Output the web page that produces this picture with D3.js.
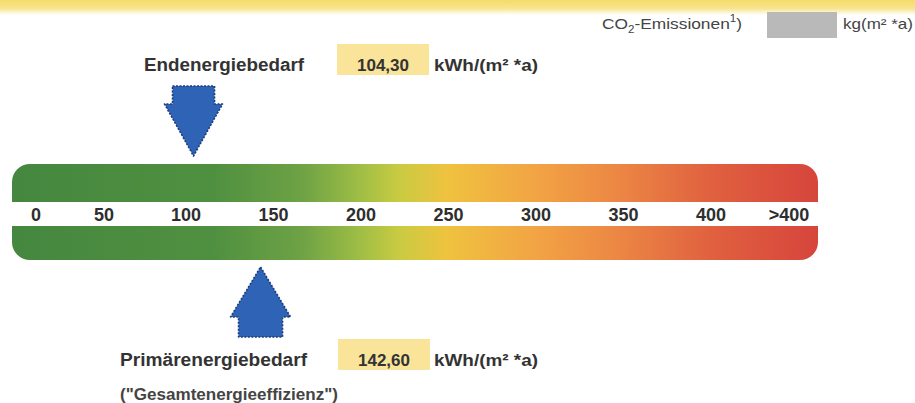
<!DOCTYPE html>
<html lang="de">
<head>
<meta charset="utf-8">
<title>Energiebedarf</title>
<script src="https://d3js.org/d3.v7.min.js"></script>
<style>
  body { margin: 0; background: #fff; }
  svg { display: block; font-family: "Liberation Sans", Arial, sans-serif; }
</style>
</head>
<body>
<svg width="915" height="403"></svg>
<script>
const tickValues = [0, 50, 100, 150, 200, 250, 300, 350, 400, 450];
const tickLabels = ["0", "50", "100", "150", "200", "250", "300", "350", "400", ">400"];
const endenergie = 104.30;
const primaerenergie = 142.60;
const unit = "kWh/(m\u00b2 *a)";
const fmt = d3.format(".2f");
const de = v => fmt(v).replace(".", ",");

const svg = d3.select("svg");
const defs = svg.append("defs");

// scale of the band (spacing is not even at the left end)
const x = d3.scaleLinear()
  .domain([0, 50, 100, 400, 450])
  .range([36, 104, 186, 711, 789]);

// top header strip
const head = defs.append("linearGradient").attr("id", "head").attr("x1", 0).attr("x2", 0).attr("y1", 0).attr("y2", 1);
head.append("stop").attr("offset", "0%").attr("stop-color", "#f4dc6a");
head.append("stop").attr("offset", "55%").attr("stop-color", "#f7e48c");
head.append("stop").attr("offset", "100%").attr("stop-color", "#fff");
svg.append("rect").attr("x", 0).attr("y", 0).attr("width", 915).attr("height", 15).attr("fill", "url(#head)");

// colour band gradient
const band = defs.append("linearGradient").attr("id", "band").attr("x1", 0).attr("x2", 1).attr("y1", 0).attr("y2", 0);
[["0%", "#45873f"], ["25%", "#4f9040"], ["36%", "#6ea245"], ["43%", "#9dbd45"], ["48%", "#c9cb42"],
 ["54%", "#efc23f"], ["65%", "#f2a444"], ["76%", "#eb8444"], ["87%", "#e0603f"], ["100%", "#d6453c"]]
  .forEach(([o, c]) => band.append("stop").attr("offset", o).attr("stop-color", c));

const bx0 = 12, bx1 = 818, r = 18;
const topY0 = 164, topY1 = 202, botY0 = 226, botY1 = 260;

const topPath = d3.path();
topPath.moveTo(bx0, topY1);
topPath.lineTo(bx0, topY0 + r);
topPath.arcTo(bx0, topY0, bx0 + r, topY0, r);
topPath.lineTo(bx1 - r, topY0);
topPath.arcTo(bx1, topY0, bx1, topY0 + r, r);
topPath.lineTo(bx1, topY1);
topPath.closePath();

const botPath = d3.path();
botPath.moveTo(bx0, botY0);
botPath.lineTo(bx1, botY0);
botPath.lineTo(bx1, botY1 - r);
botPath.arcTo(bx1, botY1, bx1 - r, botY1, r);
botPath.lineTo(bx0 + r, botY1);
botPath.arcTo(bx0, botY1, bx0, botY1 - r, r);
botPath.closePath();

svg.append("path").attr("d", topPath.toString()).attr("fill", "url(#band)");
svg.append("path").attr("d", botPath.toString()).attr("fill", "url(#band)");

// scale labels
svg.append("g").selectAll("text")
  .data(tickValues)
  .join("text")
  .attr("x", d => x(d))
  .attr("y", 221)
  .attr("text-anchor", "middle")
  .attr("font-size", 18)
  .attr("font-weight", "bold")
  .attr("fill", "#2e2e2e")
  .text((d, i) => tickLabels[i]);

// arrows
const arrowFill = "#2f63b6", arrowStroke = "#1c3d7c";
function arrow(v, dir) {
  const cx = x(v);
  const p = d3.path();
  if (dir === "down") {
    p.moveTo(cx - 21, 86); p.lineTo(cx + 21, 86); p.lineTo(cx + 21, 104);
    p.lineTo(cx + 29, 104); p.lineTo(cx, 156); p.lineTo(cx - 29, 104);
    p.lineTo(cx - 21, 104); p.closePath();
  } else {
    p.moveTo(cx, 267); p.lineTo(cx + 30, 317); p.lineTo(cx + 22, 317);
    p.lineTo(cx + 22, 337); p.lineTo(cx - 22, 337); p.lineTo(cx - 22, 317);
    p.lineTo(cx - 30, 317); p.closePath();
  }
  svg.append("path").attr("d", p.toString())
    .attr("fill", arrowFill).attr("stroke", arrowStroke)
    .attr("stroke-width", 1.6).attr("stroke-dasharray", "2 1.5")
    .attr("stroke-linejoin", "round");
}
arrow(endenergie, "down");
arrow(primaerenergie, "up");

// value rows
function valueRow(label, v, y, bx) {
  svg.append("text").attr("x", label.x).attr("y", y)
    .attr("font-size", 18).attr("font-weight", "bold").attr("fill", "#333")
    .attr("textLength", label.w).attr("lengthAdjust", "spacingAndGlyphs")
    .text(label.t);
  svg.append("rect").attr("x", bx).attr("y", y - 27).attr("width", 92).attr("height", 31)
    .attr("fill", "#f9e49a");
  svg.append("text").attr("x", bx + 46).attr("y", y).attr("text-anchor", "middle")
    .attr("font-size", 17).attr("font-weight", "bold").attr("fill", "#333")
    .text(de(v));
  svg.append("text").attr("x", 434).attr("y", y)
    .attr("font-size", 17).attr("font-weight", "bold").attr("fill", "#333")
    .attr("textLength", 104).attr("lengthAdjust", "spacingAndGlyphs")
    .text(unit);
}
valueRow({ t: "Endenergiebedarf", x: 144, w: 160 }, endenergie, 71, 337);
valueRow({ t: "Prim\u00e4renergiebedarf", x: 120, w: 187 }, primaerenergie, 366, 338);

svg.append("text").attr("x", 120).attr("y", 400)
  .attr("font-size", 16).attr("font-weight", "bold").attr("fill", "#444")
  .attr("textLength", 218).attr("lengthAdjust", "spacingAndGlyphs")
  .text("(\"Gesamtenergieeffizienz\")");

// CO2 row
const co2 = svg.append("text").attr("x", 602).attr("y", 29)
  .attr("font-size", 15).attr("fill", "#444")
  .attr("textLength", 140).attr("lengthAdjust", "spacingAndGlyphs");
co2.append("tspan").text("CO");
co2.append("tspan").attr("font-size", 10).attr("dy", 4).text("2");
co2.append("tspan").attr("dy", -4).text("-Emissionen");
co2.append("tspan").attr("font-size", 10).attr("dy", -7).text("1");
co2.append("tspan").attr("dy", 7).text(")");

svg.append("rect").attr("x", 767).attr("y", 12).attr("width", 70).attr("height", 26).attr("fill", "#b9b9b9");
svg.append("text").attr("x", 843).attr("y", 29)
  .attr("font-size", 15).attr("fill", "#444")
  .attr("textLength", 70).attr("lengthAdjust", "spacingAndGlyphs")
  .text("kg(m\u00b2 *a)");
</script>
</body>
</html>
